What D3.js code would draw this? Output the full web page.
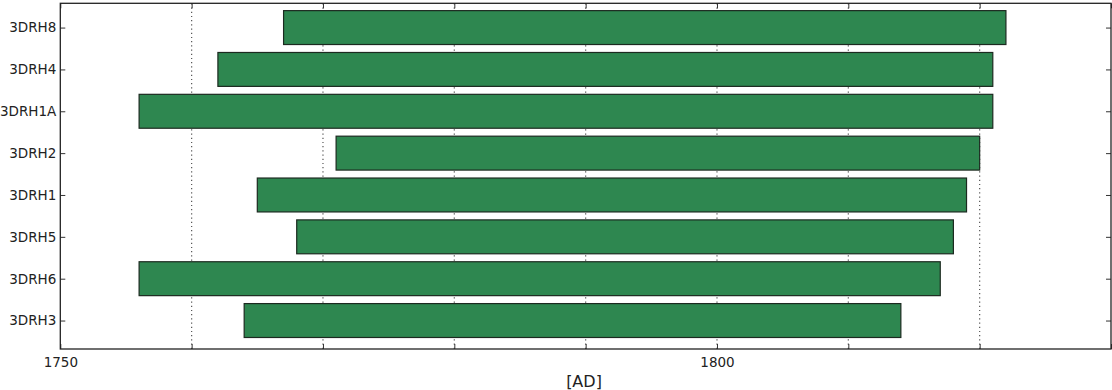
<!DOCTYPE html>
<html>
<head>
<meta charset="utf-8">
<script src="https://cdn.jsdelivr.net/npm/d3@7"></script>
<style>
  body { margin: 0; background: #fff; }
  text { font-family: "DejaVu Sans", sans-serif; fill: #222; }
</style>
</head>
<body>
<script>
// samples, bottom to top
const samples = ["3DRH3", "3DRH6", "3DRH5", "3DRH1", "3DRH2", "3DRH1A", "3DRH4", "3DRH8"];
const startYears = [1764, 1756, 1768, 1765, 1771, 1756, 1762, 1767];
const endYears = [1814, 1817, 1818, 1819, 1820, 1821, 1821, 1822];
const labelledTicks = [1750, 1800];
const gridYears = [1760, 1770, 1780, 1790, 1800, 1810, 1820];

const svgWidth = 1112, svgHeight = 390;
const plotLeft = 60.3, plotRight = 1111, plotTop = 3.3, plotBottom = 349;

const svg = d3.select("body")
    .append("svg")
    .attr("width", svgWidth)
    .attr("height", svgHeight);

const xScale = d3.scaleLinear()
    .domain([1750, 1830])
    .range([plotLeft, plotRight]);

const yScale = d3.scaleLinear()
    .domain([-0.68, 7.58])
    .range([plotBottom, plotTop]);

const barH = yScale(0) - yScale(0.81);

// dotted grid
svg.selectAll("line.grid")
    .data(gridYears)
    .enter()
    .append("line")
    .attr("class", "grid")
    .attr("x1", d => xScale(d)).attr("x2", d => xScale(d))
    .attr("y1", plotTop).attr("y2", plotBottom)
    .attr("stroke", "#555")
    .attr("stroke-width", 1.2)
    .attr("stroke-dasharray", "1.2,3");

// bars
svg.selectAll("rect.bar")
    .data(samples)
    .enter()
    .append("rect")
    .attr("class", "bar")
    .attr("x", (d, i) => xScale(startYears[i]))
    .attr("width", (d, i) => xScale(endYears[i]) - xScale(startYears[i]))
    .attr("y", (d, i) => yScale(i) - barH / 2)
    .attr("height", barH)
    .attr("fill", "#2e8750")
    .attr("stroke", "#1c2a20")
    .attr("stroke-width", 1.2);

// x ticks, inside, bottom and top
const xTicks = [1750, 1760, 1770, 1780, 1790, 1800, 1810, 1820, 1830];
const bottomAxis = svg.append("g")
    .attr("transform", `translate(0,${plotBottom})`)
    .call(d3.axisBottom(xScale).tickValues(xTicks).tickSize(-5).tickPadding(8)
        .tickFormat(d => labelledTicks.includes(d) ? d : ""));
const topAxis = svg.append("g")
    .attr("transform", `translate(0,${plotTop})`)
    .call(d3.axisTop(xScale).tickValues(xTicks).tickSize(-5).tickFormat(""));

// y ticks, inside, left and right
const leftAxis = svg.append("g")
    .attr("transform", `translate(${plotLeft},0)`)
    .call(d3.axisLeft(yScale).tickValues(d3.range(samples.length)).tickSize(-5).tickPadding(4)
        .tickFormat(i => samples[i]));
const rightAxis = svg.append("g")
    .attr("transform", `translate(${plotRight},0)`)
    .call(d3.axisRight(yScale).tickValues(d3.range(samples.length)).tickSize(-5).tickFormat(""));

[bottomAxis, topAxis, leftAxis, rightAxis].forEach(g => {
    g.select(".domain").remove();
    g.selectAll(".tick line").attr("stroke", "#333");
    g.selectAll("text").attr("font-size", 13.5).attr("fill", "#222")
        .attr("font-family", "'DejaVu Sans', sans-serif");
});

// frame
svg.append("rect")
    .attr("x", plotLeft).attr("y", plotTop)
    .attr("width", plotRight - plotLeft).attr("height", plotBottom - plotTop)
    .attr("fill", "none")
    .attr("stroke", "#222")
    .attr("stroke-width", 1.3);

svg.append("text")
    .attr("x", 584)
    .attr("y", 387)
    .attr("text-anchor", "middle")
    .attr("font-size", 16)
    .text("[AD]");
</script>
</body>
</html>
